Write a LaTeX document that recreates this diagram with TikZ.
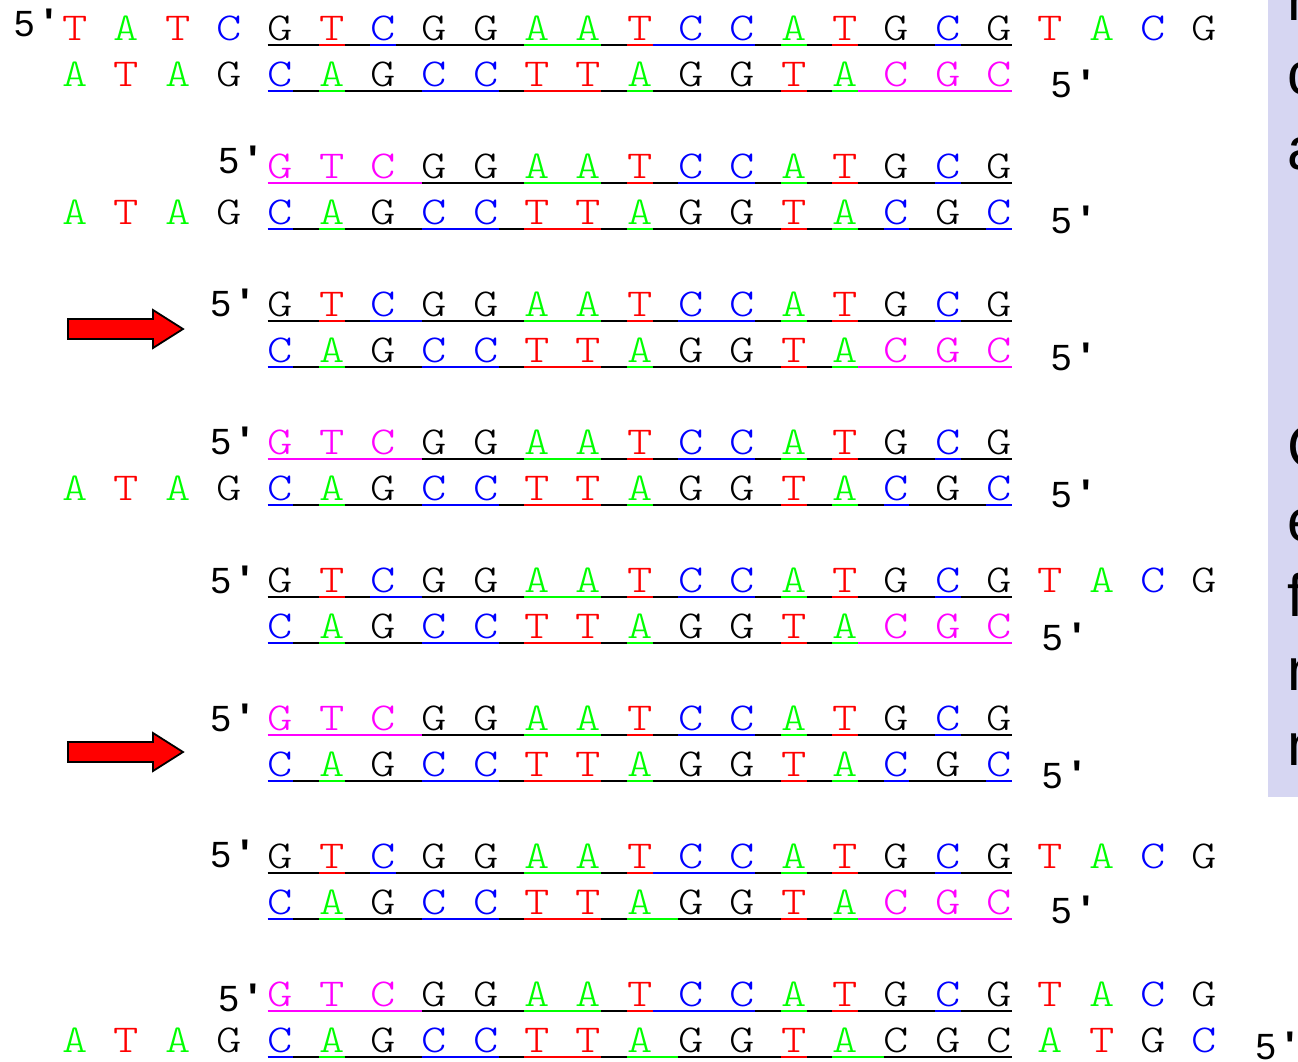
\documentclass[tikz,border=0pt]{standalone}
\usepackage{fontspec}
\newfontfamily\dnafont{lmmonolt10-regular.otf}[FakeStretch=1.22]
\newfontfamily\fivefont{Liberation Sans}[Ligatures=TeXOff]
\newfontfamily\panelfont{Liberation Sans}
\definecolor{cR}{RGB}{255,0,0}
\definecolor{cG}{RGB}{0,255,0}
\definecolor{cB}{RGB}{0,0,255}
\definecolor{cM}{RGB}{255,0,255}
\definecolor{cK}{RGB}{0,0,0}
\definecolor{lavender}{RGB}{214,214,242}
% letter lists: column/letter/colour
\def\lsTL{0/T/cR,1/A/cG,2/T/cR,3/C/cB}
\def\lsTM{4/G/cK,5/T/cR,6/C/cB,7/G/cK,8/G/cK,9/A/cG,10/A/cG,11/T/cR,12/C/cB,13/C/cB,14/A/cG,15/T/cR,16/G/cK,17/C/cB,18/G/cK}
\def\lsTMm{4/G/cM,5/T/cM,6/C/cM,7/G/cK,8/G/cK,9/A/cG,10/A/cG,11/T/cR,12/C/cB,13/C/cB,14/A/cG,15/T/cR,16/G/cK,17/C/cB,18/G/cK}
\def\lsTR{19/T/cR,20/A/cG,21/C/cB,22/G/cK}
\def\lsBL{0/A/cG,1/T/cR,2/A/cG,3/G/cK}
\def\lsBMm{4/C/cB,5/A/cG,6/G/cK,7/C/cB,8/C/cB,9/T/cR,10/T/cR,11/A/cG,12/G/cK,13/G/cK,14/T/cR,15/A/cG,16/C/cM,17/G/cM,18/C/cM}
\def\lsBMb{4/C/cB,5/A/cG,6/G/cK,7/C/cB,8/C/cB,9/T/cR,10/T/cR,11/A/cG,12/G/cK,13/G/cK,14/T/cR,15/A/cG,16/C/cB,17/G/cK,18/C/cB}
\def\lsBMk{4/C/cB,5/A/cG,6/G/cK,7/C/cB,8/C/cB,9/T/cR,10/T/cR,11/A/cG,12/G/cK,13/G/cK,14/T/cR,15/A/cG,16/C/cK,17/G/cK,18/C/cK}
\def\lsBR{19/A/cG,20/T/cR,21/G/cK,22/C/cB}
% underline colour lists, half-cells 8..36
\def\ulTopA{cK,cK,cR,cK,cB,cK,cK,cK,cK,cK,cG,cG,cG,cK,cR,cB,cB,cB,cB,cK,cG,cK,cR,cK,cK,cK,cB,cK,cK}
\def\ulTopB{cK,cK,cR,cK,cB,cB,cK,cK,cK,cK,cG,cG,cG,cK,cR,cK,cB,cB,cB,cK,cG,cK,cR,cK,cK,cK,cB,cK,cK}
\def\ulTopM{cM,cM,cM,cM,cM,cM,cK,cK,cK,cK,cG,cG,cG,cK,cR,cK,cB,cB,cB,cK,cG,cK,cR,cK,cK,cK,cB,cK,cK}
\def\ulTopMb{cM,cM,cM,cM,cM,cM,cK,cK,cK,cK,cG,cG,cG,cK,cR,cB,cB,cB,cB,cK,cG,cK,cR,cK,cK,cK,cB,cK,cK}
\def\ulBotM{cB,cK,cG,cK,cK,cK,cB,cB,cB,cK,cR,cR,cR,cK,cG,cK,cK,cK,cK,cK,cR,cK,cG,cM,cM,cM,cM,cM,cM}
\def\ulBotMg{cB,cK,cG,cK,cK,cK,cB,cB,cB,cK,cR,cR,cR,cK,cG,cG,cK,cK,cK,cK,cR,cK,cG,cM,cM,cM,cM,cM,cM}
\def\ulBotB{cB,cK,cG,cK,cK,cK,cB,cB,cB,cK,cR,cR,cR,cK,cG,cK,cK,cK,cK,cK,cR,cK,cG,cK,cB,cK,cK,cK,cB}
\def\ulBotL{cB,cK,cG,cK,cK,cK,cB,cB,cB,cK,cR,cR,cR,cK,cG,cG,cK,cK,cK,cK,cR,cK,cG,cG,cK,cK,cK,cK,cK}
\tikzset{
  nuc/.style={anchor=base, inner sep=0pt, outer sep=0pt, font=\dnafont\fontsize{39.5}{42}\selectfont},
  fivep/.style={anchor=base west, inner sep=0pt, outer sep=0pt, font=\fivefont\fontsize{36.5}{40}\selectfont},
  ulstyle/.style={line width=2.7pt, line cap=butt},
  fatarrow/.style={fill=cR, draw=black, line width=1.8pt, line join=miter},
  panelletter/.style={anchor=base west, inner sep=0pt, outer sep=0pt, text=black, font=\panelfont\fontsize{60}{72}\selectfont},
}
\newcommand\strandletters[3]{\foreach \c/\l/\co in #3 {\node[nuc, text=\co] (#1c\c) at ({75+51.333*\c}, #2) {\l};}}
\newcommand\dnaul[2]{\foreach \co [count=\p from 8] in #2 {\draw[ulstyle, draw=\co] ({62.17+25.667*\p}, #1) -- ({62.5+25.667*(\p+1)}, #1);}}
\newcommand\fiveprime{5\kern10pt{\bfseries\fontsize{40}{40}\selectfont '}}
\begin{document}
\begin{tikzpicture}[x=1pt, y=-1pt]
\useasboundingbox (0,0) rectangle (1298,1061);
\clip (0,0) rectangle (1298,1061);
% right panel
\fill[lavender] (1268,0) rectangle (1298,797);
\node[panelletter] (p1) at (1287,20) {n};
\node[panelletter] (p2) at (1287,94.5) {c};
\node[panelletter] (p3) at (1287,169) {a};
\node[panelletter] (p4) at (1287,467) {C};
\node[panelletter] (p5) at (1287,541.5) {e};
\node[panelletter] (p6) at (1287,616) {f};
\node[panelletter] (p7) at (1287,690.5) {n};
\node[panelletter] (p8) at (1287,765) {n};
% group 1
\strandletters{r1}{40}{\lsTL}\strandletters{r1}{40}{\lsTM}\strandletters{r1}{40}{\lsTR}
\dnaul{45}{\ulTopA}
\node[fivep] (f1) at (14,36) {\fiveprime};
\strandletters{r2}{86}{\lsBL}\strandletters{r2}{86}{\lsBMm}
\dnaul{91}{\ulBotM}
\node[fivep] (f2) at (1051,97) {\fiveprime};
% group 2
\strandletters{r3}{178}{\lsTMm}
\dnaul{183}{\ulTopM}
\node[fivep] (f3) at (218.5,173) {\fiveprime};
\strandletters{r4}{224}{\lsBL}\strandletters{r4}{224}{\lsBMb}
\dnaul{229}{\ulBotB}
\node[fivep] (f4) at (1051,233) {\fiveprime};
% group 3
\strandletters{r5}{316}{\lsTM}
\dnaul{321}{\ulTopB}
\node[fivep] (f5) at (210.5,316) {\fiveprime};
\strandletters{r6}{362}{\lsBMm}
\dnaul{367}{\ulBotM}
\node[fivep] (f6) at (1051,370) {\fiveprime};
% group 4
\strandletters{r7}{454}{\lsTMm}
\dnaul{459}{\ulTopM}
\node[fivep] (f7) at (210.5,454) {\fiveprime};
\strandletters{r8}{500}{\lsBL}\strandletters{r8}{500}{\lsBMb}
\dnaul{505}{\ulBotB}
\node[fivep] (f8) at (1051,507) {\fiveprime};
% group 5
\strandletters{r9}{592}{\lsTM}\strandletters{r9}{592}{\lsTR}
\dnaul{597}{\ulTopB}
\node[fivep] (f9) at (210.5,593) {\fiveprime};
\strandletters{r10}{638}{\lsBMm}
\dnaul{643}{\ulBotM}
\node[fivep] (f10) at (1042,650) {\fiveprime};
% group 6
\strandletters{r11}{730}{\lsTMm}
\dnaul{735}{\ulTopM}
\node[fivep] (f11) at (210.5,731) {\fiveprime};
\strandletters{r12}{776}{\lsBMb}
\dnaul{781}{\ulBotB}
\node[fivep] (f12) at (1042,788) {\fiveprime};
% group 7
\strandletters{r13}{868}{\lsTM}\strandletters{r13}{868}{\lsTR}
\dnaul{873}{\ulTopA}
\node[fivep] (f13) at (210.5,867) {\fiveprime};
\strandletters{r14}{914}{\lsBMm}
\dnaul{919}{\ulBotMg}
\node[fivep] (f14) at (1051,923) {\fiveprime};
% group 8
\strandletters{r15}{1006}{\lsTMm}\strandletters{r15}{1006}{\lsTR}
\dnaul{1011}{\ulTopMb}
\node[fivep] (f15) at (218.5,1011) {\fiveprime};
\strandletters{r16}{1052}{\lsBL}\strandletters{r16}{1052}{\lsBMk}\strandletters{r16}{1052}{\lsBR}
\dnaul{1057}{\ulBotL}
\node[fivep] (f16) at (1255.5,1059) {\fiveprime};
% arrows
\coordinate (a1) at (68,329);
\coordinate (a2) at (68,752);
\foreach \a in {a1,a2}{
  \filldraw[fatarrow] (\a) ++(0,-10) -- ++(85,0) -- ++(0,-9) -- ++(30,19) -- ++(-30,19) -- ++(0,-9) -- ++(-85,0) -- cycle;
}
\end{tikzpicture}
\end{document}
